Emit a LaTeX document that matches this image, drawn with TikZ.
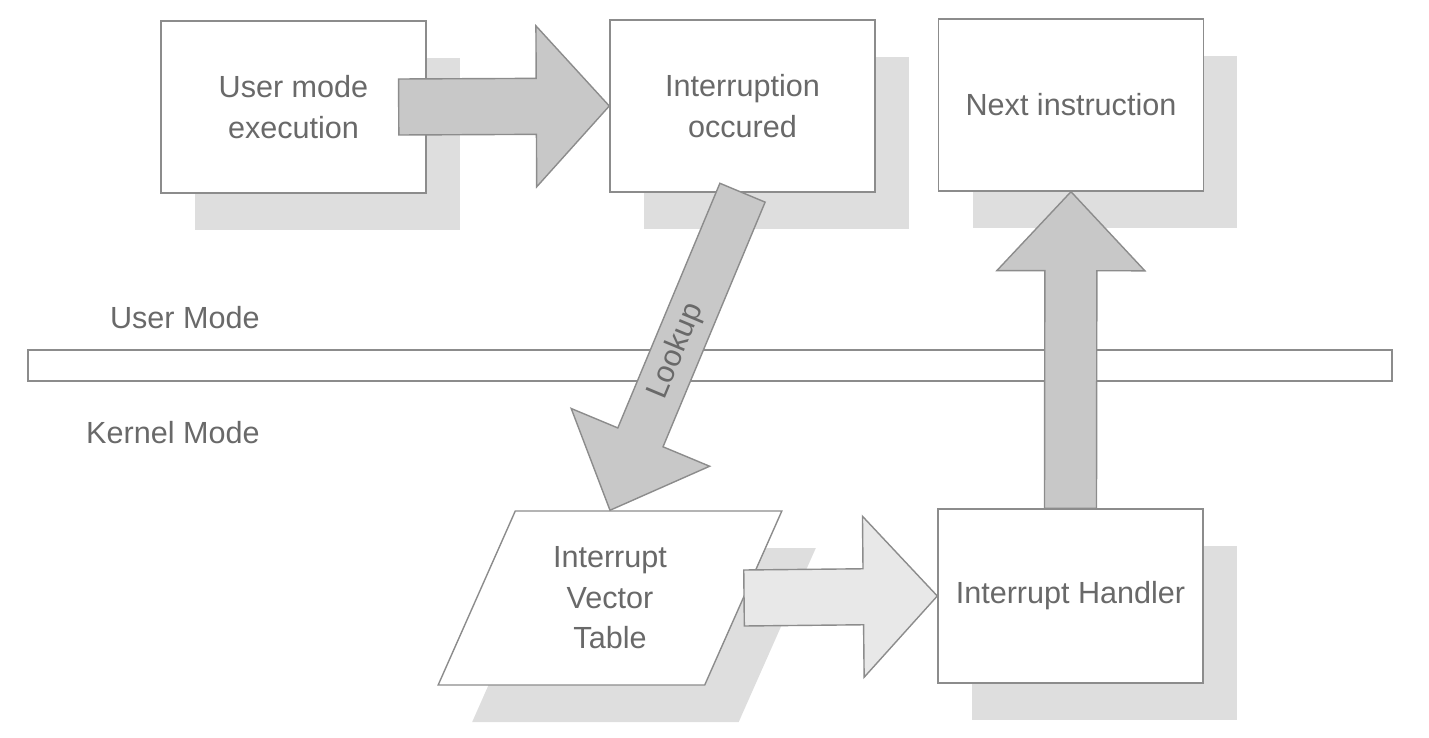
\documentclass[tikz,border=0pt]{standalone}
\usepackage{fontspec}
\setmainfont{Liberation Sans}
\usetikzlibrary{calc,shapes.geometric,shadows}

\definecolor{linegray}{RGB}{140,140,140}
\definecolor{textgray}{RGB}{105,105,105}
\definecolor{arrowgray}{RGB}{200,200,200}
\definecolor{lightarrow}{RGB}{232,232,232}
\definecolor{shadowgray}{RGB}{222,222,222}

% block arrow: [style]{from}{to}{half shaft}{half head}{head length}
\newcommand{\bigarrow}[6][]{%
  \coordinate (hb) at ($(#3)!#6!(#2)$);
  \draw[arrowbody,#1] ($(#2)!#4!90:(#3)$) -- ($(hb)!#4!90:(#3)$) -- ($(hb)!#5!90:(#3)$) -- (#3)
    -- ($(hb)!#5!-90:(#3)$) -- ($(hb)!#4!-90:(#3)$) -- ($(#2)!#4!-90:(#3)$) -- cycle;
}

\begin{document}
\begin{tikzpicture}[x=0.1mm, y=-0.1mm, every node/.style={align=center, text=textgray, font=\fontsize{8.7}{11.5}\selectfont}]
    % styles
    \tikzstyle{shade} = [drop shadow={shadow xshift=3.4mm, shadow yshift=-3.7mm, fill=shadowgray, opacity=1}]
    \tikzstyle{box} = [rectangle, draw=linegray, fill=white, minimum width=26.5mm, minimum height=17.2mm, inner sep=0pt, shade]
    \tikzstyle{vtable} = [trapezium, trapezium left angle=65.6, trapezium right angle=114.4, trapezium stretches=true, draw=linegray, fill=white, minimum width=34.4mm, minimum height=17.4mm, inner sep=0pt, shade]
    \tikzstyle{arrowbody} = [draw=linegray, fill=arrowgray, line join=miter]

    \useasboundingbox (0,0) rectangle (1429,738);

    % boxes
    \node[box] (exec) at (293.5,107) {User mode\\execution};
    \node[box] (intr) at (742.5,106) {Interruption\\occured};
    \node[box] (next) at (1071,105) {Next instruction};
    \node[box, minimum height=17.4mm] (handler) at (1070.5,596) {Interrupt Handler};
    \node[vtable] (ivt) at (610,598) {Interrupt\\Vector\\Table};

    % mode separator
    \node[draw=linegray, fill=white, minimum width=136.4mm, minimum height=3.1mm, inner sep=0pt] (bar) at (710,365.5) {};
    \node[anchor=east] (umode) at (272,318) {User Mode};
    \node[anchor=east] (kmode) at (272,433) {Kernel Mode};

    % arrows
    \coordinate (t1) at ([xshift=-2.8mm]exec.east);
    \bigarrow{t1}{intr.west}{2.8mm}{8.05mm}{7.3mm}
    \bigarrow{intr.south}{ivt.north}{2.45mm}{7.5mm}{7.9mm}
    \bigarrow[fill=lightarrow]{ivt.east}{handler.west}{2.8mm}{8.05mm}{7.4mm}
    \bigarrow{handler.north}{next.south}{2.6mm}{7.4mm}{7.9mm}
    \node[rotate=67.4] (lookup) at ($(intr.south)!0.5!(ivt.north)$) {Lookup};
\end{tikzpicture}
\end{document}
